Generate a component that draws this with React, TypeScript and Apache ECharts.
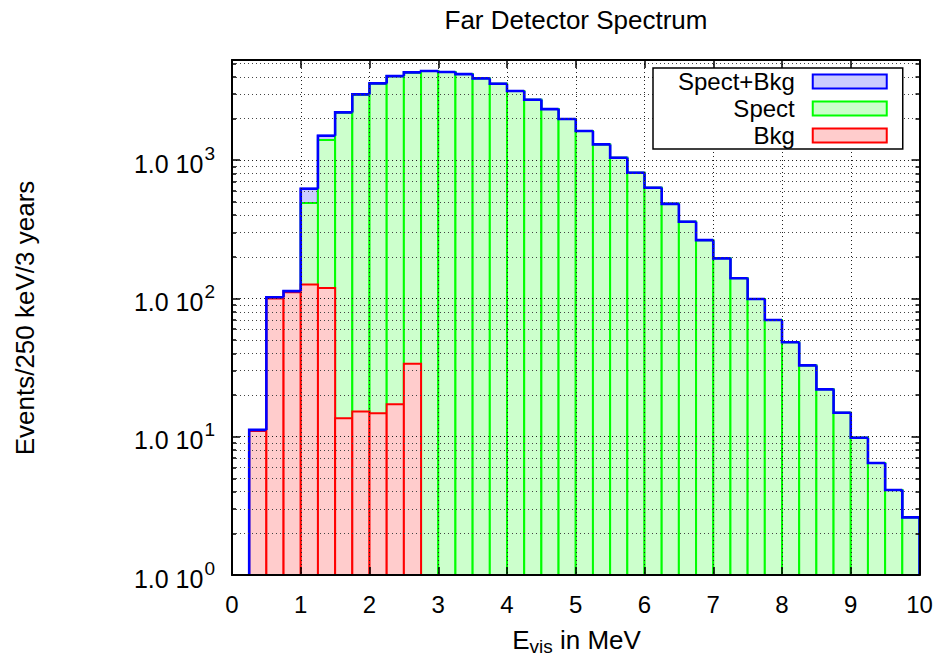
import React, { useEffect, useRef } from 'react';
import * as echarts from 'echarts';

// ---- data ----
const BIN_WIDTH = 0.25;
const binLow = [
  0, 0.25, 0.5, 0.75, 1, 1.25, 1.5, 1.75, 2, 2.25,
  2.5, 2.75, 3, 3.25, 3.5, 3.75, 4, 4.25, 4.5, 4.75,
  5, 5.25, 5.5, 5.75, 6, 6.25, 6.5, 6.75, 7, 7.25,
  7.5, 7.75, 8, 8.25, 8.5, 8.75, 9, 9.25, 9.5, 9.75,
];
const spectPlusBkg = [
  0, 11.2, 102, 113, 621, 1500, 2215, 2990, 3590, 4055,
  4315, 4410, 4335, 4190, 3900, 3570, 3160, 2737, 2340, 1983,
  1623, 1300, 1040, 811, 631, 483, 359, 264, 195, 140,
  99, 69.8, 48.2, 32.8, 22.0, 14.9, 9.84, 6.45, 4.12, 2.61,
];
const spect = [
  0, 0, 0, 0, 490, 1397, 2200, 2975, 3575, 4038,
  4280, 4410, 4335, 4190, 3900, 3570, 3160, 2737, 2340, 1983,
  1623, 1300, 1040, 811, 631, 483, 359, 264, 195, 140,
  99, 69.8, 48.2, 32.8, 22.0, 14.9, 9.84, 6.45, 4.12, 2.61,
];
const bkg = [
  0, 11.0, 100, 111, 126, 119, 13.6, 15.2, 14.8, 17.2,
  33.7, 0, 0, 0, 0, 0, 0, 0, 0, 0,
  0, 0, 0, 0, 0, 0, 0, 0, 0, 0,
  0, 0, 0, 0, 0, 0, 0, 0, 0, 0,
];
const seriesNames = ['Spect+Bkg', 'Spect', 'Bkg'];
const X_MIN = 0;
const X_MAX = 10;
const Y_MIN = 1;
const Y_MAX = 5300;

const TITLE = 'Far Detector Spectrum';
const Y_TITLE = 'Events/250 keV/3 years';

const FONT = '"Liberation Sans", Arial, Helvetica, sans-serif';
const FILLS = ['#ccccff', '#ccffcc', '#ffcccc'];
const STROKES = ['#0000ff', '#00ff00', '#ff0000'];

function histSeries(name: string, values: number[], fill: string, stroke: string) {
  return {
    type: 'custom',
    name,
    z: 2,
    clip: true,
    xAxisIndex: 0,
    yAxisIndex: 0,
    itemStyle: { color: fill, borderColor: stroke, borderWidth: 2 },
    encode: { x: [0, 1], y: 2 },
    data: binLow.map((x, i) => [x, x + BIN_WIDTH, values[i]]),
    renderItem: (params: any, api: any) => {
      const x0 = api.value(0);
      const x1 = api.value(1);
      const v = api.value(2);
      const bl = api.coord([x0, Y_MIN]);
      const br = api.coord([x1, Y_MIN]);
      if (!(v > Y_MIN)) {
        return {
          type: 'line',
          shape: { x1: bl[0], y1: bl[1], x2: br[0], y2: br[1] },
          style: { stroke, lineWidth: 2 },
        };
      }
      const tl = api.coord([x0, v]);
      return {
        type: 'rect',
        shape: { x: tl[0], y: tl[1], width: br[0] - tl[0], height: bl[1] - tl[1] },
        style: { fill, stroke, lineWidth: 2 },
      };
    },
  };
}

// step outline of the total histogram, drawn on top
function outlineSeries(values: number[], stroke: string) {
  const n = values.length;
  return {
    type: 'custom',
    name: 'Spect+Bkg outline',
    z: 3,
    clip: true,
    silent: true,
    xAxisIndex: 0,
    yAxisIndex: 0,
    encode: { x: [0, 1], y: 2 },
    data: binLow.map((x, i) => [x, x + BIN_WIDTH, values[i]]),
    renderItem: (params: any, api: any) => {
      const i = params.dataIndex;
      const v = api.value(2);
      if (!(v > Y_MIN)) return undefined;
      const x0 = api.value(0);
      const x1 = api.value(1);
      const prev = i > 0 && values[i - 1] > Y_MIN ? values[i - 1] : Y_MIN;
      const pts = [api.coord([x0, prev]), api.coord([x0, v]), api.coord([x1, v])];
      const isLast = i === n - 1 || !(values[i + 1] > Y_MIN);
      if (isLast) pts.push(api.coord([x1, Y_MIN]));
      return {
        type: 'polyline',
        shape: { points: pts },
        style: { stroke, lineWidth: 2.6, fill: 'none', lineJoin: 'miter' },
      };
    },
  };
}

const dotted = { color: '#222', width: 1, type: [1, 3] as any };
const axisLine = { show: true, onZero: false, lineStyle: { color: '#000', width: 2 } };

function yLabel(v: number) {
  const e = Math.round(Math.log10(v));
  if (Math.abs(v - Math.pow(10, e)) > 1e-6 * v) return '';
  return `{b|1.0 10}{sup|${e}}`;
}

export default function App() {
  const ref = useRef<HTMLDivElement>(null);
  useEffect(() => {
    const chart = echarts.init(ref.current!, null, { renderer: 'svg' });
    const option: any = {
      animation: false,
      backgroundColor: '#fff',
      textStyle: { fontFamily: FONT, color: '#000' },
      grid: { left: 232, right: 22.5, top: 60, bottom: 85 },
      xAxis: [
        {
          type: 'value', min: X_MIN, max: X_MAX, interval: 1, z: 5,
          axisLine,
          axisTick: { show: true, inside: true, length: 8, lineStyle: { color: '#000', width: 1.5 } },
          axisLabel: { show: true, margin: 17, fontSize: 24, color: '#000', fontFamily: FONT },
          splitLine: { show: true, lineStyle: dotted },
        },
        {
          type: 'value', position: 'top', min: X_MIN, max: X_MAX, interval: 1, z: 5,
          axisLine,
          axisTick: { show: true, inside: true, length: 8, lineStyle: { color: '#000', width: 1.5 } },
          axisLabel: { show: false },
          splitLine: { show: false },
        },
      ],
      yAxis: [
        {
          type: 'log', logBase: 10, min: Y_MIN, max: Y_MAX, z: 5,
          axisLine,
          axisTick: { show: true, inside: true, length: 8, lineStyle: { color: '#000', width: 1.5 } },
          minorTick: { show: true, splitNumber: 9, length: 4, lineStyle: { color: '#000', width: 1.5 } },
          axisLabel: {
            show: true, margin: 17, formatter: yLabel, color: '#000', fontFamily: FONT,
            rich: {
              b: { fontSize: 25, fontFamily: FONT, color: '#000', padding: [7, 0, 0, 0] },
              sup: { fontSize: 19, fontFamily: FONT, color: '#000', padding: [0, 0, 14, 1] },
            },
          },
          splitLine: { show: true, lineStyle: dotted },
          minorSplitLine: { show: true, lineStyle: { color: '#444', width: 1, type: [1, 3] } },
        },
        {
          type: 'log', logBase: 10, min: Y_MIN, max: Y_MAX, position: 'right', z: 5,
          axisLine,
          axisTick: { show: true, inside: true, length: 8, lineStyle: { color: '#000', width: 1.5 } },
          minorTick: { show: true, splitNumber: 9, length: 4, lineStyle: { color: '#000', width: 1.5 } },
          axisLabel: { show: false },
          splitLine: { show: false },
        },
      ],
      legend: {
        show: true,
        orient: 'vertical',
        align: 'right',
        left: 653,
        top: 68,
        itemGap: 0,
        itemWidth: 74,
        itemHeight: 14,
        padding: [0, 15, 0, 25],
        borderColor: '#000',
        borderWidth: 1.5,
        backgroundColor: '#fff',
        selectedMode: false,
        z: 10,
        textStyle: { fontSize: 24, fontFamily: FONT, color: '#000', lineHeight: 27, padding: [0, 13, 0, 0] },
        data: seriesNames.map((n, i) => ({
          name: n,
          icon: 'rect',
          itemStyle: { color: FILLS[i], borderColor: STROKES[i], borderWidth: 2 },
        })),
      },
      graphic: [
        {
          type: 'text', x: 576, y: 20, z: 10,
          style: { text: TITLE, font: `26px ${FONT}`, fill: '#000', align: 'center', verticalAlign: 'middle' },
        },
        {
          type: 'text', x: 24.5, y: 318, rotation: Math.PI / 2, z: 10,
          style: { text: Y_TITLE, font: `26px ${FONT}`, fill: '#000', align: 'center', verticalAlign: 'middle' },
        },
        {
          type: 'text', x: 576.5, y: 640, z: 10,
          style: {
            text: '{b|E}{sub|vis}{b| in MeV}',
            align: 'center', verticalAlign: 'middle', fill: '#000',
            rich: {
              b: { fontSize: 26, fontFamily: FONT, fill: '#000' },
              sub: { fontSize: 19, fontFamily: FONT, fill: '#000', padding: [12, 0, 0, 0] },
            },
          },
        },
      ],
      series: [
        histSeries(seriesNames[0], spectPlusBkg, FILLS[0], STROKES[0]),
        histSeries(seriesNames[1], spect, FILLS[1], STROKES[1]),
        histSeries(seriesNames[2], bkg, FILLS[2], STROKES[2]),
        outlineSeries(spectPlusBkg, STROKES[0]),
      ],
    };
    chart.setOption(option);
    return () => chart.dispose();
  }, []);
  return (
    <div
      ref={ref}
      style={{ position: 'absolute', left: 0, top: 0, width: 942, height: 660 }}
    />
  );
}
